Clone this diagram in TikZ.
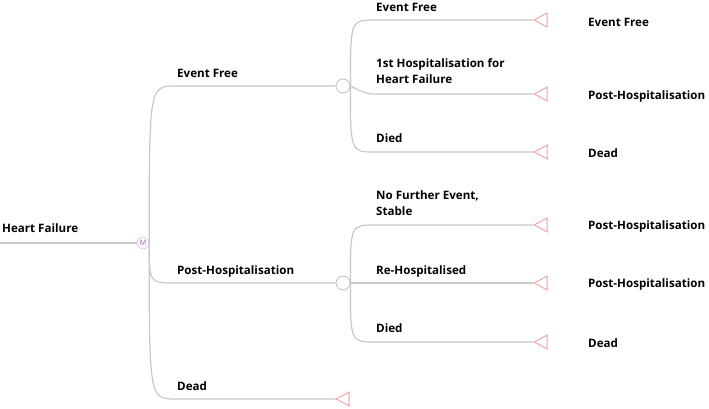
\documentclass[tikz,border=0pt]{standalone}
\usepackage{fontspec}
\setmainfont{Open Sans}
\usetikzlibrary{shapes.geometric}
\definecolor{grau}{HTML}{C8C8C8}
\definecolor{rosa}{HTML}{F2A0A0}
\definecolor{lila}{HTML}{A05CC0}
\definecolor{gruen}{HTML}{B4C8B4}

\begin{document}
\begin{tikzpicture}[
        x=1pt, y=-1pt,
        every node/.style={font=\fontsize{11.6}{16}\selectfont\bfseries},
        ast/.style={draw=grau, line width=1.2pt},
        lbl/.style={anchor=south west, inner sep=0pt, text depth=0pt, align=left},
        ziel/.style={anchor=west, inner sep=0pt},
        markovk/.style={circle, draw=lila!55, fill=white, text=lila, inner sep=0pt,
                        minimum size=12pt, font=\fontsize{7.5}{7.5}\selectfont},
        zufallk/.style={circle, draw=gruen, fill=white, inner sep=0pt,
                        minimum size=14pt, line width=0.8pt},
        endk/.style={isosceles triangle, shape border rotate=180,
                     isosceles triangle stretches, draw=rosa, line width=0.9pt,
                     inner sep=0pt, minimum width=14pt, minimum height=13pt},
      ]
      \useasboundingbox (0,0) rectangle (709,409);

      % Knoten
      \coordinate (wurzel) at (0,243);
      \node[markovk] (m) at (143,243) {M};
      \node[zufallk] (c1) at (343,86) {};
      \node[zufallk] (c2) at (343,283) {};

      % Astpunkte
      \coordinate (b1) at (176,86);
      \coordinate (b2) at (176,283);
      \coordinate (b3) at (176,399);
      \coordinate (b11) at (375,20);
      \coordinate (b12) at (375,94);
      \coordinate (b13) at (375,152);
      \coordinate (b21) at (375,225);
      \coordinate (b22) at (375,283);
      \coordinate (b23) at (375,342);

      % Endknoten
      \node[endk, anchor=apex] (t3) at (335,399) {};
      \node[endk, anchor=apex] (t11) at (533,20) {};
      \node[endk, anchor=apex] (t12) at (533,94) {};
      \node[endk, anchor=apex] (t13) at (533,152) {};
      \node[endk, anchor=apex] (t21) at (533,225) {};
      \node[endk, anchor=apex] (t22) at (533,283) {};
      \node[endk, anchor=apex] (t23) at (533,342) {};

      % Aeste
      \draw[ast] (wurzel) -- (m);
      \draw[ast] (m.east) .. controls (m.east |- b1) .. (b1) -- (c1);
      \draw[ast] (m.east) .. controls (m.east |- b2) .. (b2) -- (c2);
      \draw[ast] (m.east) .. controls (m.east |- b3) .. (b3) -- (t3.apex);
      \draw[ast] (c1.east) .. controls (c1.east |- b11) .. (b11) -- (t11.apex);
      \draw[ast] (c1.east) to[out=-25, in=180] (b12) -- (t12.apex);
      \draw[ast] (c1.east) .. controls (c1.east |- b13) .. (b13) -- (t13.apex);
      \draw[ast] (c2.east) .. controls (c2.east |- b21) .. (b21) -- (t21.apex);
      \draw[ast] (c2.east) -- (b22) -- (t22.apex);
      \draw[ast] (c2.east) .. controls (c2.east |- b23) .. (b23) -- (t23.apex);

      % Beschriftungen
      \node[lbl] (lhf) at ([xshift=2pt, yshift=10pt]wurzel) {Heart Failure};
      \node[lbl] (l1) at ([xshift=1pt, yshift=8pt]b1) {Event Free};
      \node[lbl] (l2) at ([xshift=1pt, yshift=8pt]b2) {Post-Hospitalisation};
      \node[lbl] (l3) at ([xshift=1pt, yshift=8pt]b3) {Dead};
      \node[lbl] (l11) at ([xshift=1pt, yshift=8pt]b11) {Event Free};
      \node[lbl] (l12) at ([xshift=1pt, yshift=10pt]b12) {1st Hospitalisation for\\Heart Failure};
      \node[lbl] (l13) at ([xshift=1pt, yshift=9pt]b13) {Died};
      \node[lbl] (l21) at ([xshift=1pt, yshift=9pt]b21) {No Further Event,\\Stable};
      \node[lbl] (l22) at ([xshift=1pt, yshift=8pt]b22) {Re-Hospitalised};
      \node[lbl] (l23) at ([xshift=1pt, yshift=9pt]b23) {Died};

      \node[ziel] (z11) at (588,22) {Event Free};
      \node[ziel] (z12) at (588,96) {Post-Hospitalisation};
      \node[ziel] (z13) at (588,153) {Dead};
      \node[ziel] (z21) at (588,226) {Post-Hospitalisation};
      \node[ziel] (z22) at (588,284) {Post-Hospitalisation};
      \node[ziel] (z23) at (588,343) {Dead};
    \end{tikzpicture}
\end{document}
